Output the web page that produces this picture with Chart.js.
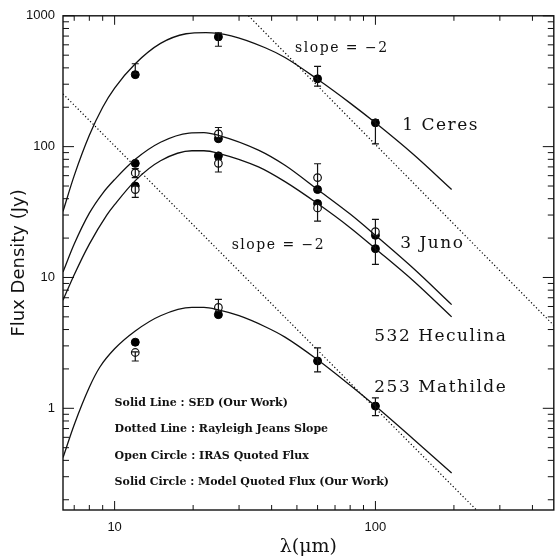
<!DOCTYPE html>
<html>
<head>
    <title>Asteroid SED</title>
    <script src="https://cdn.jsdelivr.net/npm/chart.js"></script>
    <style>
        body { margin: 0; background: #fff; }
    </style>
</head>
<body>
    <canvas id="sedChart" width="559" height="559"></canvas>
    <script>
        // axis ranges and labelled ticks
        const xMin = 6.34, xMax = 483;
        const yMin = 0.167, yMax = 1000;
        const xTickLabels = [10, 100];
        const yTickLabels = [1, 10, 100, 1000];

        // SED curves (wavelength in micron, flux in Jy)
        const ceresWave = [6.34, 7, 8, 9, 10, 12, 15, 18.8, 22.4, 28, 37.8, 45, 60, 80, 100, 140, 196];
        const ceresFlux = [32, 60, 122, 200, 280, 430, 615, 729, 745, 703, 570, 480, 327, 215, 152, 87, 47];
        const junoWave = [6.34, 7, 8, 9, 10, 12, 15, 19.3, 22, 25, 35.6, 45, 60, 80, 100, 140, 196];
        const junoFlux = [11, 18, 31, 44, 56, 80, 108, 127, 128, 122, 94, 72, 47, 30.5, 21, 11.7, 6.2];
        const heculinaWave = [6.34, 7, 8, 9.33, 10, 12, 15, 19.8, 22, 25, 35.6, 45, 60, 80, 100, 140, 196];
        const heculinaFlux = [6.7, 10.5, 18, 30, 36, 55, 78, 93, 93, 89, 70, 54, 36.7, 24, 16.6, 9.4, 5.0];
        const mathildeWave = [6.34, 7, 8, 8.77, 10, 12, 15, 19.8, 22, 25, 30, 37.8, 45, 60, 80, 100, 140, 196];
        const mathildeFlux = [0.42, 0.75, 1.45, 2.06, 2.85, 3.9, 5.1, 5.9, 5.9, 5.65, 5.1, 4.2, 3.5, 2.35, 1.5, 1.04, 0.58, 0.32];

        // Rayleigh-Jeans slope lines (end points)
        const rjUpperWave = [32.6, 483];
        const rjUpperFlux = [1000, 4.3];
        const rjLowerWave = [6.34, 244];
        const rjLowerFlux = [253, 0.167];

        // IRAS quoted flux (open circles)
        const irasWave = [12, 25, 60, 100, 12, 25, 60, 12, 25];
        const irasFlux = [63, 125, 58, 22.4, 47, 74.5, 34, 2.67, 5.9];

        // model quoted flux (solid circles)
        const modelWave = [12, 25, 60, 100, 12, 25, 60, 100, 12, 25, 60, 100, 12, 25, 60, 100];
        const modelFlux = [355, 690, 330, 152, 74.5, 115, 47, 21, 50, 85, 36.7, 16.6, 3.2, 5.2, 2.3, 1.04];

        // error bars
        const errWave = [12, 25, 60, 100, 12, 12, 25, 25, 60, 60, 100, 12, 25, 60, 100];
        const errLow = [360, 585, 290, 105, 58, 41, 112, 64, 47, 27, 12.6, 2.3, 5.5, 1.9, 0.88];
        const errHigh = [430, 740, 410, 160, 68, 50, 140, 80, 74, 37, 27.8, 2.7, 6.8, 2.9, 1.2];

        // text placed on the plot, in data coordinates (left edge, middle)
        const notes = [
            { text: 'slope = \u22122', x: 49.2, y: 560, font: '14px "DejaVu Serif"', spacing: '1.5px' },
            { text: '1 Ceres', x: 126.8, y: 145, font: '17px "DejaVu Serif"', spacing: '1.5px' },
            { text: 'slope = \u22122', x: 28.1, y: 17.5, font: '14px "DejaVu Serif"', spacing: '1.5px' },
            { text: '3 Juno', x: 124.5, y: 18.2, font: '17px "DejaVu Serif"', spacing: '1.5px' },
            { text: '532 Heculina', x: 99, y: 3.55, font: '17px "DejaVu Serif"', spacing: '1.5px' },
            { text: '253 Mathilde', x: 99, y: 1.45, font: '17px "DejaVu Serif"', spacing: '1.5px' },
            { text: 'Solid Line : SED (Our Work)', x: 10, y: 1.09, font: 'bold 11px "DejaVu Serif"', spacing: '0px' },
            { text: 'Dotted Line : Rayleigh Jeans Slope', x: 10, y: 0.69, font: 'bold 11px "DejaVu Serif"', spacing: '0px' },
            { text: 'Open Circle : IRAS Quoted Flux', x: 10, y: 0.43, font: 'bold 11px "DejaVu Serif"', spacing: '0px' },
            { text: 'Solid Circle : Model Quoted Flux (Our Work)', x: 10, y: 0.272, font: 'bold 11px "DejaVu Serif"', spacing: '0px' }
        ];

        function toPoints(xs, ys) {
            return xs.map((x, i) => ({ x: x, y: ys[i] }));
        }

        function logTicks(min, max) {
            const out = [];
            for (let e = Math.floor(Math.log10(min)); e <= Math.ceil(Math.log10(max)); e++) {
                for (let m = 1; m < 10; m++) {
                    const v = Math.round(m * Math.pow(10, e) * 1e6) / 1e6;
                    if (v >= min && v <= max * 1.0001) out.push({ value: v });
                }
            }
            return out;
        }

        function curve(xs, ys) {
            return {
                data: toPoints(xs, ys),
                showLine: true,
                borderColor: '#111',
                borderWidth: 1.3,
                pointRadius: 0,
                cubicInterpolationMode: 'monotone'
            };
        }

        function dotted(xs, ys) {
            return {
                data: toPoints(xs, ys),
                showLine: true,
                borderColor: '#000',
                borderWidth: 1.2,
                borderDash: [1.2, 2.3],
                pointRadius: 0
            };
        }

        // box round the plot with inward ticks on all four sides
        const frameTicks = {
            id: 'frameTicks',
            afterDraw(chart) {
                const { ctx, chartArea: a, scales } = chart;
                ctx.save();
                ctx.strokeStyle = '#111';
                ctx.lineWidth = 1.4;
                ctx.strokeRect(a.left, a.top, a.right - a.left, a.bottom - a.top);
                ctx.lineWidth = 1;
                ctx.beginPath();
                scales.x.ticks.forEach(t => {
                    const px = scales.x.getPixelForValue(t.value);
                    const len = xTickLabels.includes(t.value) ? 9 : 5;
                    ctx.moveTo(px, a.bottom); ctx.lineTo(px, a.bottom - len);
                    ctx.moveTo(px, a.top); ctx.lineTo(px, a.top + len);
                });
                scales.y.ticks.forEach(t => {
                    const py = scales.y.getPixelForValue(t.value);
                    const len = yTickLabels.includes(t.value) ? 11 : 6;
                    ctx.moveTo(a.left, py); ctx.lineTo(a.left + len, py);
                    ctx.moveTo(a.right, py); ctx.lineTo(a.right - len, py);
                });
                ctx.stroke();
                ctx.restore();
            }
        };

        const errorBars = {
            id: 'errorBars',
            afterDatasetsDraw(chart) {
                const { ctx, scales } = chart;
                ctx.save();
                ctx.strokeStyle = '#111';
                ctx.lineWidth = 1.2;
                ctx.beginPath();
                errWave.forEach((w, i) => {
                    const px = scales.x.getPixelForValue(w);
                    const lo = scales.y.getPixelForValue(errLow[i]);
                    const hi = scales.y.getPixelForValue(errHigh[i]);
                    ctx.moveTo(px, lo); ctx.lineTo(px, hi);
                    ctx.moveTo(px - 3.5, lo); ctx.lineTo(px + 3.5, lo);
                    ctx.moveTo(px - 3.5, hi); ctx.lineTo(px + 3.5, hi);
                });
                ctx.stroke();
                ctx.restore();
            }
        };

        const plotNotes = {
            id: 'plotNotes',
            afterDraw(chart) {
                const { ctx, scales } = chart;
                ctx.save();
                ctx.fillStyle = '#111';
                ctx.textAlign = 'left';
                ctx.textBaseline = 'middle';
                notes.forEach(n => {
                    ctx.font = n.font;
                    ctx.letterSpacing = n.spacing;
                    ctx.fillText(n.text, scales.x.getPixelForValue(n.x), scales.y.getPixelForValue(n.y));
                });
                ctx.restore();
            }
        };

        const ctx = document.getElementById('sedChart').getContext('2d');
        const chart = new Chart(ctx, {
            type: 'scatter',
            data: {
                datasets: [
                    curve(ceresWave, ceresFlux),
                    curve(junoWave, junoFlux),
                    curve(heculinaWave, heculinaFlux),
                    curve(mathildeWave, mathildeFlux),
                    dotted(rjUpperWave, rjUpperFlux),
                    dotted(rjLowerWave, rjLowerFlux),
                    {
                        data: toPoints(irasWave, irasFlux),
                        pointStyle: 'circle',
                        pointRadius: 3.8,
                        backgroundColor: '#fff',
                        borderColor: '#111',
                        borderWidth: 1.2
                    },
                    {
                        data: toPoints(modelWave, modelFlux),
                        pointStyle: 'circle',
                        pointRadius: 4,
                        backgroundColor: '#000',
                        borderColor: '#000',
                        borderWidth: 1
                    }
                ]
            },
            options: {
                responsive: false,
                animation: false,
                layout: { padding: { top: 15, right: 1, left: 0, bottom: 0 } },
                plugins: {
                    legend: { display: false },
                    tooltip: { enabled: false }
                },
                scales: {
                    x: {
                        type: 'logarithmic',
                        min: xMin,
                        max: xMax,
                        grid: { display: false, drawTicks: false },
                        border: { display: false },
                        afterBuildTicks: (scale) => { scale.ticks = logTicks(xMin, xMax); },
                        afterFit: (scale) => { scale.height = 49; },
                        ticks: {
                            autoSkip: false,
                            maxRotation: 0,
                            padding: 10,
                            color: '#111',
                            font: { family: '"Liberation Sans"', size: 13 },
                            callback: (v) => xTickLabels.includes(v) ? String(v) : ''
                        },
                        title: {
                            display: true,
                            text: '\u03bb(\u03bcm)',
                            color: '#111',
                            font: { family: '"DejaVu Serif"', size: 19 },
                            padding: { top: 0, bottom: 1 }
                        }
                    },
                    y: {
                        type: 'logarithmic',
                        min: yMin,
                        max: yMax,
                        grid: { display: false, drawTicks: false },
                        border: { display: false },
                        afterBuildTicks: (scale) => { scale.ticks = logTicks(yMin, yMax); },
                        afterFit: (scale) => { scale.width = 63; },
                        ticks: {
                            autoSkip: false,
                            padding: 8,
                            color: '#111',
                            font: { family: '"Liberation Sans"', size: 13 },
                            callback: (v) => yTickLabels.includes(v) ? String(v) : ''
                        },
                        title: {
                            display: true,
                            text: 'Flux Density (Jy)',
                            color: '#111',
                            font: { family: '"DejaVu Sans"', size: 18 },
                            padding: { top: 9, bottom: 0 }
                        }
                    }
                }
            },
            plugins: [frameTicks, errorBars, plotNotes]
        });
    </script>
</body>
</html>
